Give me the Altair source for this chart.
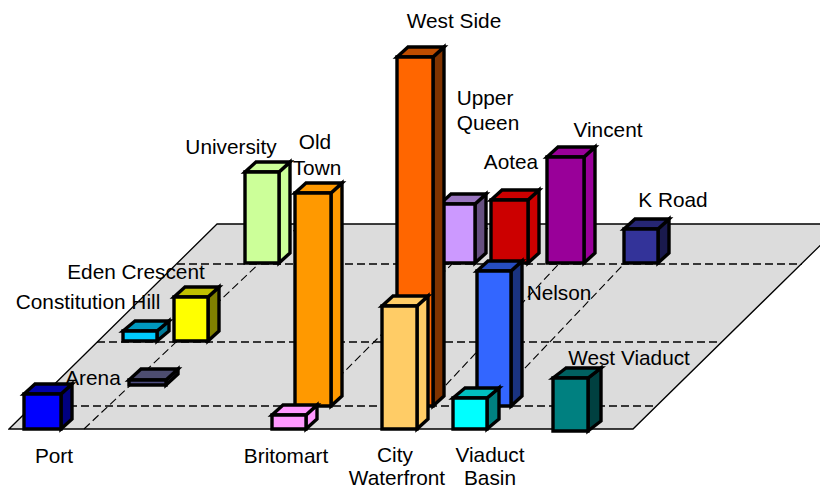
import altair as alt
import pandas as pd

# Bars in draw order (back to front): name, front-left, front-right, base, top, depth dx, depth dy
names = ["University", "Upper Queen", "Aotea", "Vincent", "K Road", "Eden Crescent", "Constitution Hill",
         "Arena", "Old Town", "West Side", "Nelson", "Port", "Britomart", "City Waterfront", "Viaduct Basin", "West Viaduct"]
x_left = [245, 440, 491, 547, 624, 123, 174, 129, 295, 397, 477, 24, 272, 382, 453, 553]
x_right = [279, 475, 528, 584, 658, 157, 208, 166, 331, 433, 511, 61, 306, 417, 487, 588]
base = [263, 263, 263, 263, 263, 341, 341, 385, 406, 406, 406, 429, 429, 429, 429, 431]
top = [172, 204, 200, 157, 229, 331, 297, 380, 193, 57, 271, 394, 415, 306, 398, 378]
depth_x = [11, 11, 11, 11, 11, 12, 11, 12, 11, 11, 11, 11, 11, 11, 12, 13]
depth_y = [10, 10, 10, 10, 10, 10, 10, 11, 10, 10, 10, 10, 10, 10, 10, 10]
front = ["#CCFF99", "#CC99FF", "#CC0000", "#990099", "#333399", "#00CCFF", "#FFFF00",
         "#4D4D80", "#FF9900", "#FF6600", "#3366FF", "#0000FF", "#FF99FF", "#FFCC66", "#00FFFF", "#008080"]
roof = ["#CCFF99", "#9975BF", "#CC0000", "#990099", "#262673", "#0099BF", "#BFBF00",
        "#4D4D70", "#FF9900", "#BF4D00", "#264DBF", "#0000AA", "#FF99FF", "#FFCC66", "#00BFBF", "#006060"]
side = ["#CCFF99", "#665080", "#CC0000", "#990099", "#1A1A4D", "#007A99", "#808000",
        "#333355", "#FF9900", "#803300", "#1A3380", "#000080", "#FF99FF", "#FFCC66", "#008080", "#004040"]

# Labels
label_text = ["Port", "Britomart", "City", "Waterfront", "Viaduct", "Basin", "West Viaduct", "Nelson", "K Road",
              "Vincent", "Aotea", "Upper", "Queen", "West Side", "Old", "Town", "University",
              "Eden Crescent", "Constitution Hill", "Arena"]
label_x = [54, 286, 395, 397, 490, 490, 629, 559, 673, 608, 511, 485, 488, 454, 315, 317, 231, 136, 88, 93]
label_y = [457, 457, 456, 479, 456, 479, 359, 294, 201, 131, 163, 99, 124, 22, 143, 169, 148, 273, 303, 379]

# Floor
floor_y = [429, 224]
floor_left = [9, 217]
floor_right = [633, 842]
row_y = [406, 342, 264]
row_left = [33, 97, 177]
row_right = [656, 718, 802]
col_bottom = [84, 287, 405, 467]
col_top = [301, 492, 596, 662]

X = alt.Scale(domain=[8, 820], range=[0, 812], nice=False, zero=False)
Y = alt.Scale(domain=[8, 490], range=[0, 482], nice=False, zero=False)


def xq(f):
    return alt.X(f"{f}:Q", scale=X, axis=None)


def yq(f):
    return alt.Y(f"{f}:Q", scale=Y, axis=None)


layers = []
layers.append(
    alt.Chart(pd.DataFrame({"y": floor_y, "a": floor_left, "b": floor_right}))
    .mark_area(orient="horizontal", fill="#DCDCDC", stroke="#000000", strokeWidth=1.3)
    .encode(y=yq("y"), x=xq("a"), x2="b:Q")
)
dash = [8, 4]
layers.append(
    alt.Chart(pd.DataFrame({"y": row_y, "a": row_left, "b": row_right}))
    .mark_rule(color="#000000", strokeWidth=1.3, strokeDash=dash)
    .encode(y=yq("y"), x=xq("a"), x2="b:Q")
)
layers.append(
    alt.Chart(pd.DataFrame({"a": col_bottom, "b": col_top, "y0": [floor_y[0]] * 4, "y1": [floor_y[1]] * 4}))
    .mark_rule(color="#000000", strokeWidth=1.1, strokeDash=dash)
    .encode(x=xq("a"), x2="b:Q", y=yq("y0"), y2="y1:Q")
)

sw = 3.4
for i in range(len(names)):
    x0, x1, b, t, dx, dy = x_left[i], x_right[i], base[i], top[i], depth_x[i], depth_y[i]
    common = dict(stroke="#000000", strokeWidth=sw, strokeJoin="miter")
    layers.append(
        alt.Chart(pd.DataFrame({"x": [x1, x1 + dx], "y": [b, b - dy], "y2": [t, t - dy]}))
        .mark_area(fill=side[i], **common)
        .encode(x=xq("x"), y=yq("y"), y2="y2:Q")
    )
    layers.append(
        alt.Chart(pd.DataFrame({"y": [t, t - dy], "a": [x0, x0 + dx], "b": [x1, x1 + dx]}))
        .mark_area(orient="horizontal", fill=roof[i], **common)
        .encode(y=yq("y"), x=xq("a"), x2="b:Q")
    )
    layers.append(
        alt.Chart(pd.DataFrame({"x": [x0], "x2": [x1], "y": [b], "y2": [t]}))
        .mark_rect(fill=front[i], **common)
        .encode(x=xq("x"), x2="x2:Q", y=yq("y"), y2="y2:Q")
    )

layers.append(
    alt.Chart(pd.DataFrame({"t": label_text, "x": label_x, "y": label_y}))
    .mark_text(font="Liberation Sans", fontSize=20.8, color="#000000", align="center", baseline="middle")
    .encode(x=xq("x"), y=yq("y"), text="t:N")
)

chart = (
    alt.layer(*layers)
    .properties(width=812, height=482, padding=0, autosize=alt.AutoSizeParams(type="none"))
    .configure_view(stroke=None)
)
chart.save("out.html", embed_options={"renderer": "svg", "actions": False})
